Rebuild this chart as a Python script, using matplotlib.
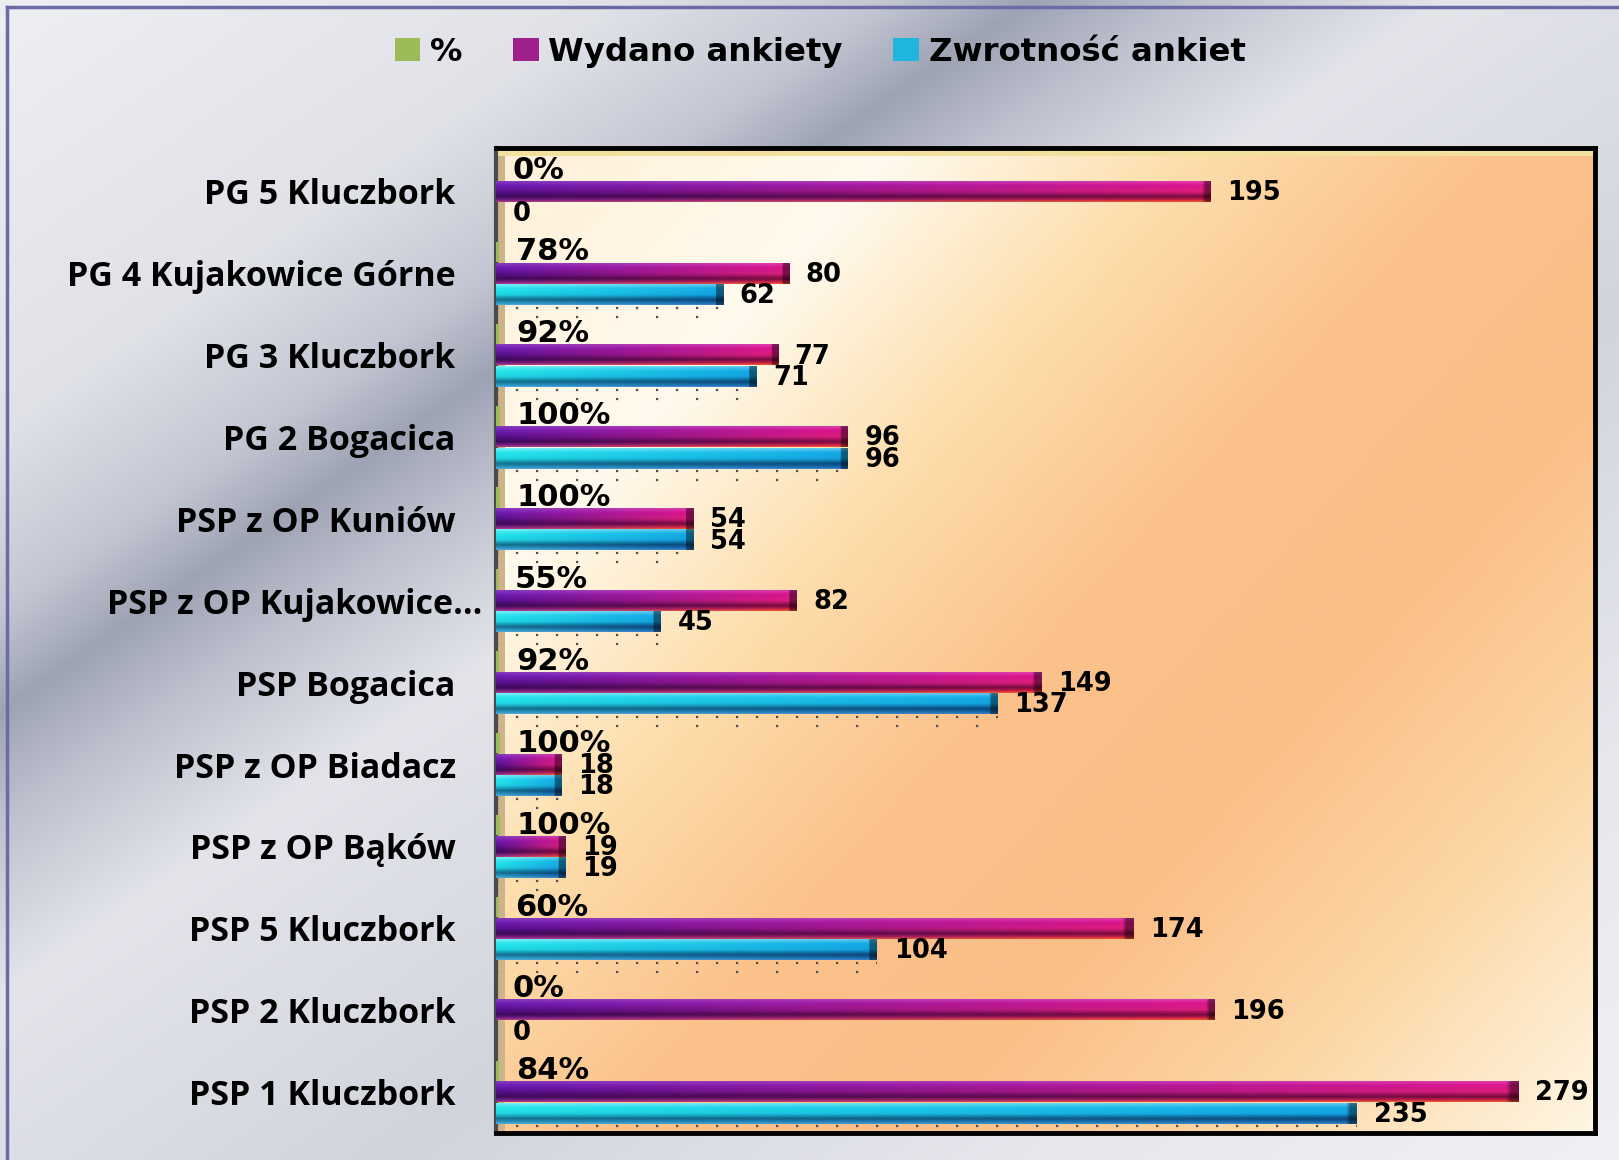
import numpy as np
import matplotlib.pyplot as plt
from matplotlib.patches import Patch, Rectangle
from matplotlib.lines import Line2D
from matplotlib.transforms import ScaledTranslation

categories = ["PG 5 Kluczbork", "PG 4 Kujakowice Górne", "PG 3 Kluczbork", "PG 2 Bogacica",
              "PSP z OP Kuniów", "PSP z OP Kujakowice...", "PSP Bogacica", "PSP z OP Biadacz",
              "PSP z OP Bąków", "PSP 5 Kluczbork", "PSP 2 Kluczbork", "PSP 1 Kluczbork"]
procent = [0.0, 0.78, 0.92, 1.0, 1.0, 0.55, 0.92, 1.0, 1.0, 0.60, 0.0, 0.84]
wydano = [195, 80, 77, 96, 54, 82, 149, 18, 19, 174, 196, 279]
zwrotnosc = [0, 62, 71, 96, 54, 45, 137, 18, 19, 104, 0, 235]
series_names = ["%", "Wydano ankiety", "Zwrotność ankiet"]

W, H = 1619, 1160
XMAX = 300

# vertical colour stops (top -> bottom) at the left and right end of a bar
wyd_left = [(0, (130, 60, 190)), (0.2, (110, 30, 180)), (0.5, (85, 15, 140)),
            (0.75, (60, 10, 90)), (0.9, (110, 30, 130)), (1.0, (170, 60, 140))]
wyd_right = [(0, (230, 60, 170)), (0.2, (220, 20, 140)), (0.5, (225, 30, 125)),
             (0.75, (120, 10, 60)), (0.9, (200, 30, 70)), (1.0, (250, 90, 40))]
zw_left = [(0, (120, 240, 245)), (0.2, (40, 232, 236)), (0.5, (30, 215, 225)),
           (0.75, (20, 110, 140)), (0.9, (40, 150, 190)), (1.0, (80, 170, 220))]
zw_right = [(0, (100, 200, 240)), (0.2, (20, 170, 230)), (0.5, (20, 160, 225)),
            (0.75, (10, 70, 120)), (0.9, (20, 100, 170)), (1.0, (60, 130, 200))]

fig_stops = [(0, (238, 239, 243)), (620, (224, 226, 232)), (880, (196, 199, 211)),
             (1030, (158, 163, 180)), (1190, (190, 193, 206)), (1445, (228, 229, 235)),
             (2065, (210, 212, 221)), (2685, (230, 231, 237)), (3310, (240, 240, 244))]
plot_stops = [(0, (255, 240, 215)), (0.2, (255, 250, 238)), (0.35, (253, 222, 172)),
              (0.5, (251, 194, 140)), (0.66, (251, 190, 135)), (0.82, (252, 215, 165)),
              (1.0, (255, 246, 228))]


def stops_image(coord, stops):
    pos = [s[0] for s in stops]
    img = np.zeros(coord.shape + (3,))
    for c in range(3):
        img[..., c] = np.interp(coord, pos, [s[1][c] for s in stops]) / 255.0
    return img


def paint_bar(ax, bar, left_stops, right_stops, px_per_unit):
    x0, y0 = bar.get_x(), bar.get_y()
    w, h = bar.get_width(), bar.get_height()
    if w <= 0:
        return
    t = np.linspace(0, 1, 40)
    u = np.linspace(0, 1, 200)
    left = stops_image(t, left_stops)
    right = stops_image(t, right_stops)
    img = left[:, None, :] * (1 - u[None, :, None]) + right[:, None, :] * u[None, :, None]
    cap = min(0.35, 7.0 / (w * px_per_unit))
    img[:, u > 1 - cap, :] *= 0.55
    ax.imshow(np.clip(img, 0, 1), extent=(x0, x0 + w, y0 + h, y0), aspect="auto",
              interpolation="bilinear", zorder=3)


fig = plt.figure(figsize=(W / 100, H / 100), dpi=100)

bg = fig.add_axes([0, 0, 1, 1], zorder=-2)
yy, xx = np.mgrid[0:H:2, 0:W:2]
bg.imshow(stops_image(xx + 1.45 * yy, fig_stops), extent=(0, 1, 0, 1), aspect="auto",
          interpolation="bilinear")
bg.set_xlim(0, 1)
bg.set_ylim(0, 1)
bg.axis("off")
fig.add_artist(Line2D([7 / W, 7 / W], [0, 1 - 7 / H], color=(0.42, 0.42, 0.66), lw=2.5))
fig.add_artist(Line2D([7 / W, 1], [1 - 7 / H, 1 - 7 / H], color=(0.42, 0.42, 0.66), lw=2.5))

rect = [496 / W, (H - 1133) / H, (1595 - 496) / W, (1133 - 148) / H]
pbg = fig.add_axes(rect, zorder=-1)
vv, uu = np.mgrid[0:1:300j, 0:1:300j]
pbg.imshow(stops_image(0.55 * uu + 0.45 * vv, plot_stops), extent=(0, 1, 0, 1), aspect="auto",
           interpolation="bilinear")
pbg.set_xlim(0, 1)
pbg.set_ylim(0, 1)
pbg.axis("off")

ax = fig.add_axes(rect, zorder=1)
ax.patch.set_visible(False)
px_per_unit = rect[2] * W / XMAX

y = np.arange(len(categories))
off, bh = 0.26, 0.25
bars_p = ax.barh(y - off, procent, height=bh, color="#9bbb59", zorder=3)
bars_w = ax.barh(y, wydano, height=bh, color="#a0208c", lw=0, zorder=2)
bars_z = ax.barh(y + off, zwrotnosc, height=bh, color="#1fb5dc", lw=0, zorder=2)
for bar in bars_w:
    paint_bar(ax, bar, wyd_left, wyd_right, px_per_unit)
for bar in bars_z:
    paint_bar(ax, bar, zw_left, zw_right, px_per_unit)

# dotted floor lines under the return bars
ax.hlines(y + 0.42, 0, zwrotnosc, colors="#505050", lw=1.6, linestyles=(0, (1, 8.0)), zorder=2)
ax.hlines(y + 0.53, 0, zwrotnosc, colors="#505050", lw=1.6, linestyles=(0, (1, 17.0)), zorder=2)

# side wall and top bevel
ax.add_patch(Rectangle((0, 0), 0.008, 1, transform=ax.transAxes, color=(0.80, 0.70, 0.54),
                       lw=0, zorder=1.5))
ax.add_patch(Rectangle((0, 0.992), 1, 0.008, transform=ax.transAxes, color=(0.95, 0.88, 0.62),
                       lw=0, zorder=1.5))

for bar, v in zip(bars_p, procent):
    ax.annotate(f"{round(v * 100)}%", (bar.get_width(), bar.get_y() + bar.get_height() / 2),
                xytext=(12, 0), textcoords="offset points", va="center", ha="left",
                fontsize=22, fontweight="bold", zorder=5)
for bars, vals in [(bars_w, wydano), (bars_z, zwrotnosc)]:
    for bar, v in zip(bars, vals):
        ax.annotate(str(v), (bar.get_width(), bar.get_y() + bar.get_height() / 2),
                    xytext=(12, -1), textcoords="offset points", va="center", ha="left",
                    fontsize=18.5, fontweight="bold", zorder=5)

ax.set_xlim(0, XMAX)
ax.set_ylim(len(categories) - 0.5, -0.53)
ax.set_xticks([])
ax.set_yticks(y)
ax.set_yticklabels(categories, fontfamily="Open Sans", fontweight="bold", fontsize=24.5)
ax.tick_params(axis="y", length=0, pad=29)
lbl = ax.get_yticklabels()[5]
lbl.set_transform(lbl.get_transform() + ScaledTranslation(0.27, 0, fig.dpi_scale_trans))
for side in ["top", "right", "bottom"]:
    ax.spines[side].set_color("black")
    ax.spines[side].set_linewidth(3.5)
ax.spines["left"].set_color("#4a4a4a")
ax.spines["left"].set_linewidth(3)

handles = [Patch(facecolor="#9bbb59"), Patch(facecolor="#a0208c"), Patch(facecolor="#1fb5dc")]
fig.legend(handles, series_names, loc="center", bbox_to_anchor=(0.5065, 0.955), ncol=3,
           frameon=False, prop={"family": "DejaVu Sans", "weight": "bold", "size": 23.3},
           handlelength=0.8, handleheight=0.7, handletextpad=0.3, columnspacing=1.55)

fig.savefig("out.png", dpi=100)
